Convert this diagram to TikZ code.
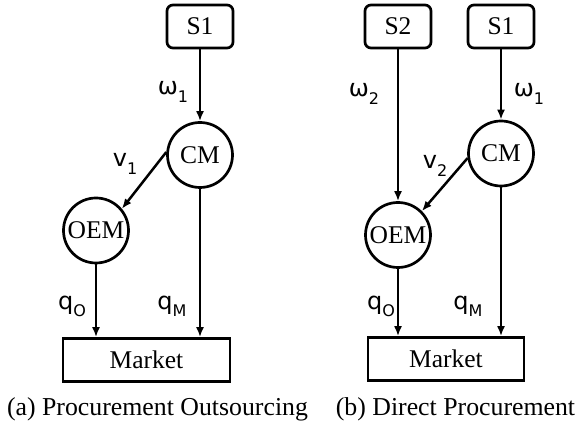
\documentclass[tikz,border=0pt]{standalone}
\usepackage{fontspec}
\setmainfont{Liberation Serif}
\newfontfamily\lblfont{DejaVu Sans}
\usepackage{tikz}
\usetikzlibrary{arrows.meta}

\newcommand{\flowlbl}[2]{#1\raisebox{-0.3em}{\fontsize{16}{17}\selectfont #2}}

\tikzset{
  supbox/.style={draw, line width=2.7pt, rounded corners=6pt, minimum width=66pt, minimum height=43pt, inner sep=0pt},
  firm/.style={draw, circle, line width=2.7pt, minimum size=65pt, inner sep=0pt},
  mktbox/.style={draw, line width=2.7pt, minimum height=43pt, inner sep=0pt},
  flow/.style={-{Latex[length=10pt,width=8pt]}, line width=2.5pt},
  lbl/.style={font=\lblfont\fontsize{24}{26}\selectfont, inner sep=0pt},
  caption/.style={font=\fontsize{25.8}{30}\selectfont, anchor=base, inner sep=0pt},
}

\begin{document}
\begin{tikzpicture}[x=1pt, y=-1pt, font=\fontsize{25.5}{30}\selectfont]
		\useasboundingbox (0,0) rectangle (582,427);

		% (a) procurement outsourcing
		\node[supbox] (s1a) at (200,26.5) {S1};
		\node[firm] (cma) at (200,155) {CM};
		\node[firm] (oema) at (96,230.5) {OEM};
		\node[mktbox, minimum width=167pt] (mkta) at (146.5,360) {Market};

		\draw[flow] (s1a) -- (cma);
		\draw[flow] (cma.175) -- (oema.40);
		\draw[flow] (oema) -- (oema |- mkta.north);
		\draw[flow] (cma) -- (cma |- mkta.north);

		\node[lbl] (w1a) at (173,92) {\flowlbl{ω}{1}};
		\node[lbl] (v1a) at (125,164) {\flowlbl{v}{1}};
		\node[lbl] (qoa) at (72,306) {\flowlbl{q}{O}};
		\node[lbl] (qma) at (172,306) {\flowlbl{q}{M}};

		\node[caption] (capa) at (157.5,416) {(a) Procurement Outsourcing};

		% (b) direct procurement
		\node[supbox] (s2b) at (398,26.5) {S2};
		\node[supbox] (s1b) at (501,26.5) {S1};
		\node[firm] (cmb) at (501,153.5) {CM};
		\node[firm] (oemb) at (398,235) {OEM};
		\node[mktbox, minimum width=156pt] (mktb) at (446,359) {Market};

		\draw[flow] (s2b) -- (oemb);
		\draw[flow] (s1b) -- (cmb);
		\draw[flow] (cmb.188) -- (oemb.45);
		\draw[flow] (oemb) -- (oemb |- mktb.north);
		\draw[flow] (cmb) -- (cmb |- mktb.north);

		\node[lbl] (w2b) at (364,94) {\flowlbl{ω}{2}};
		\node[lbl] (w1b) at (529,94) {\flowlbl{ω}{1}};
		\node[lbl] (v2b) at (435,166) {\flowlbl{v}{2}};
		\node[lbl] (qob) at (381,306) {\flowlbl{q}{O}};
		\node[lbl] (qmb) at (468,306) {\flowlbl{q}{M}};

		\node[caption] (capb) at (455.5,416) {(b) Direct Procurement};
	\end{tikzpicture}
\end{document}
